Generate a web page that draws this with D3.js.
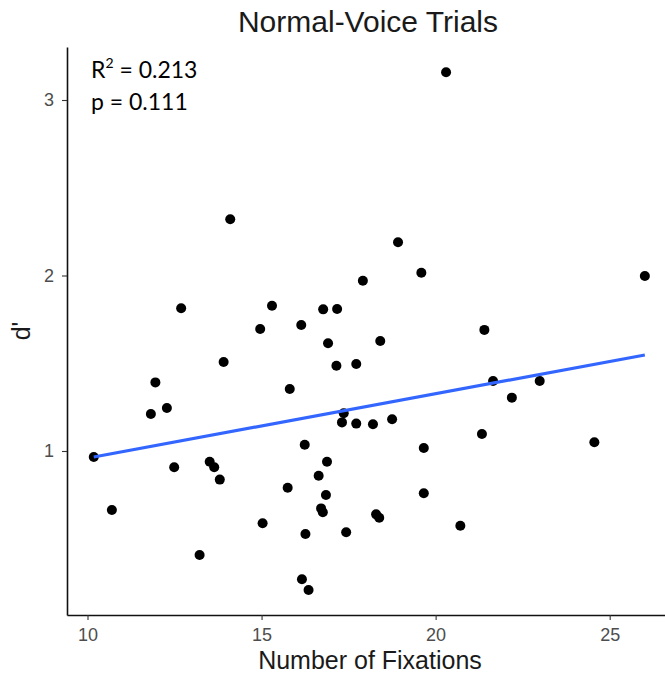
<!DOCTYPE html>
<html>
<head>
<meta charset="utf-8">
<script src="https://cdn.jsdelivr.net/npm/d3@7"></script>
<style>
  body { margin: 0; background: #fff; }
  svg { display: block; }
</style>
</head>
<body>
<svg id="viz" width="665" height="674"></svg>
<script>
// values
let fixations = [14.10, 12.69, 20.30, 18.92, 19.59, 17.91, 15.30, 16.77, 17.17, 16.14,
  26.01, 21.40, 14.96, 13.91, 11.95, 12.28, 11.82, 10.18, 12.49, 13.51,
  13.64, 13.80, 10.70, 15.03, 13.22, 16.91, 18.41, 17.15, 17.72, 15.81,
  17.36, 17.31, 17.72, 18.20, 18.75, 16.24, 19.66, 16.88, 16.64, 15.75,
  16.85, 19.66, 16.71, 16.76, 18.29, 18.38, 16.26, 17.43, 20.71, 16.16,
  16.35, 21.65, 22.99, 22.19, 21.33, 24.56]
let dprime = [2.320, 1.813, 3.158, 2.189, 2.016, 1.970, 1.828, 1.807, 1.809, 1.718,
  1.997, 1.690, 1.695, 1.507, 1.391, 1.245, 1.211, 0.966, 0.907, 0.939,
  0.907, 0.837, 0.664, 0.588, 0.407, 1.614, 1.627, 1.486, 1.496, 1.353,
  1.215, 1.163, 1.156, 1.152, 1.181, 1.036, 1.017, 0.939, 0.859, 0.791,
  0.749, 0.759, 0.673, 0.651, 0.639, 0.620, 0.527, 0.537, 0.574, 0.269,
  0.208, 1.399, 1.399, 1.304, 1.097, 1.050]

// ends of the fitted line
let fitX = [10.18, 26.01]
let fitY = [0.966, 1.547]

let xTicks = [10, 15, 20, 25]
let yTicks = [1, 2, 3]

let padL = 67, padR = 665, padT = 47, padB = 615

let svg = d3.select('#viz')

let x = d3.scaleLinear().domain([9.411, 26.589]).range([padL, padR])
let y = d3.scaleLinear().domain([0.0655, 3.302]).range([padB, padT])

// axes
let xAxis = svg.append('g')
  .attr('transform', `translate(0,${padB})`)
  .call(d3.axisBottom(x).tickValues(xTicks).tickFormat(d3.format('d'))
    .tickSize(5).tickSizeOuter(0).tickPadding(8))
let yAxis = svg.append('g')
  .attr('transform', `translate(${padL},0)`)
  .call(d3.axisLeft(y).tickValues(yTicks).tickFormat(d3.format('d'))
    .tickSize(5).tickSizeOuter(0).tickPadding(8))

svg.selectAll('.domain').attr('stroke', '#111').attr('stroke-width', 1.6)
svg.selectAll('.tick line').attr('stroke', '#333').attr('stroke-width', 1.1)
svg.selectAll('.tick text')
  .attr('fill', '#4d4d4d')
  .style('font-family', 'Liberation Sans, Arial, sans-serif')
  .style('font-size', '18px')

// points
let pts = fixations.map((f, i) => [f, dprime[i]])
svg.append('g').selectAll('circle')
  .data(pts)
  .enter()
  .append('circle')
  .attr('cx', d => x(d[0]))
  .attr('cy', d => y(d[1]))
  .attr('r', 5)
  .style('fill', '#000')

// fit line
svg.append('path')
  .datum(fitX.map((f, i) => [f, fitY[i]]))
  .attr('d', d3.line().x(d => x(d[0])).y(d => y(d[1])))
  .attr('fill', 'none')
  .attr('stroke', '#3366FF')
  .attr('stroke-width', 3.2)

// titles
svg.append('text')
  .attr('x', 368)
  .attr('y', 32)
  .attr('text-anchor', 'middle')
  .style('font-family', 'Liberation Sans, Arial, sans-serif')
  .style('font-size', '30px')
  .attr('fill', '#1a1a1a')
  .text('Normal-Voice Trials')

svg.append('text')
  .attr('x', 370)
  .attr('y', 669)
  .attr('text-anchor', 'middle')
  .style('font-family', 'Liberation Sans, Arial, sans-serif')
  .style('font-size', '25px')
  .attr('fill', '#1a1a1a')
  .text('Number of Fixations')

svg.append('text')
  .attr('transform', 'translate(30,331) rotate(-90)')
  .attr('text-anchor', 'middle')
  .style('font-family', 'Liberation Sans, Arial, sans-serif')
  .style('font-size', '25px')
  .attr('fill', '#1a1a1a')
  .text("d'")

// stats note
let note = svg.append('g')
  .style('font-family', 'Lato, Carlito, sans-serif')
  .style('font-size', '23px')
  .attr('fill', '#000')
let r2 = note.append('text').attr('x', 91).attr('y', 78)
r2.append('tspan').text('R')
r2.append('tspan').attr('dy', -10).style('font-size', '14px').text('2')
r2.append('tspan').attr('dy', 10).text(' = 0.213')
note.append('text').attr('x', 91).attr('y', 110).text('p = 0.111')
</script>
</body>
</html>
